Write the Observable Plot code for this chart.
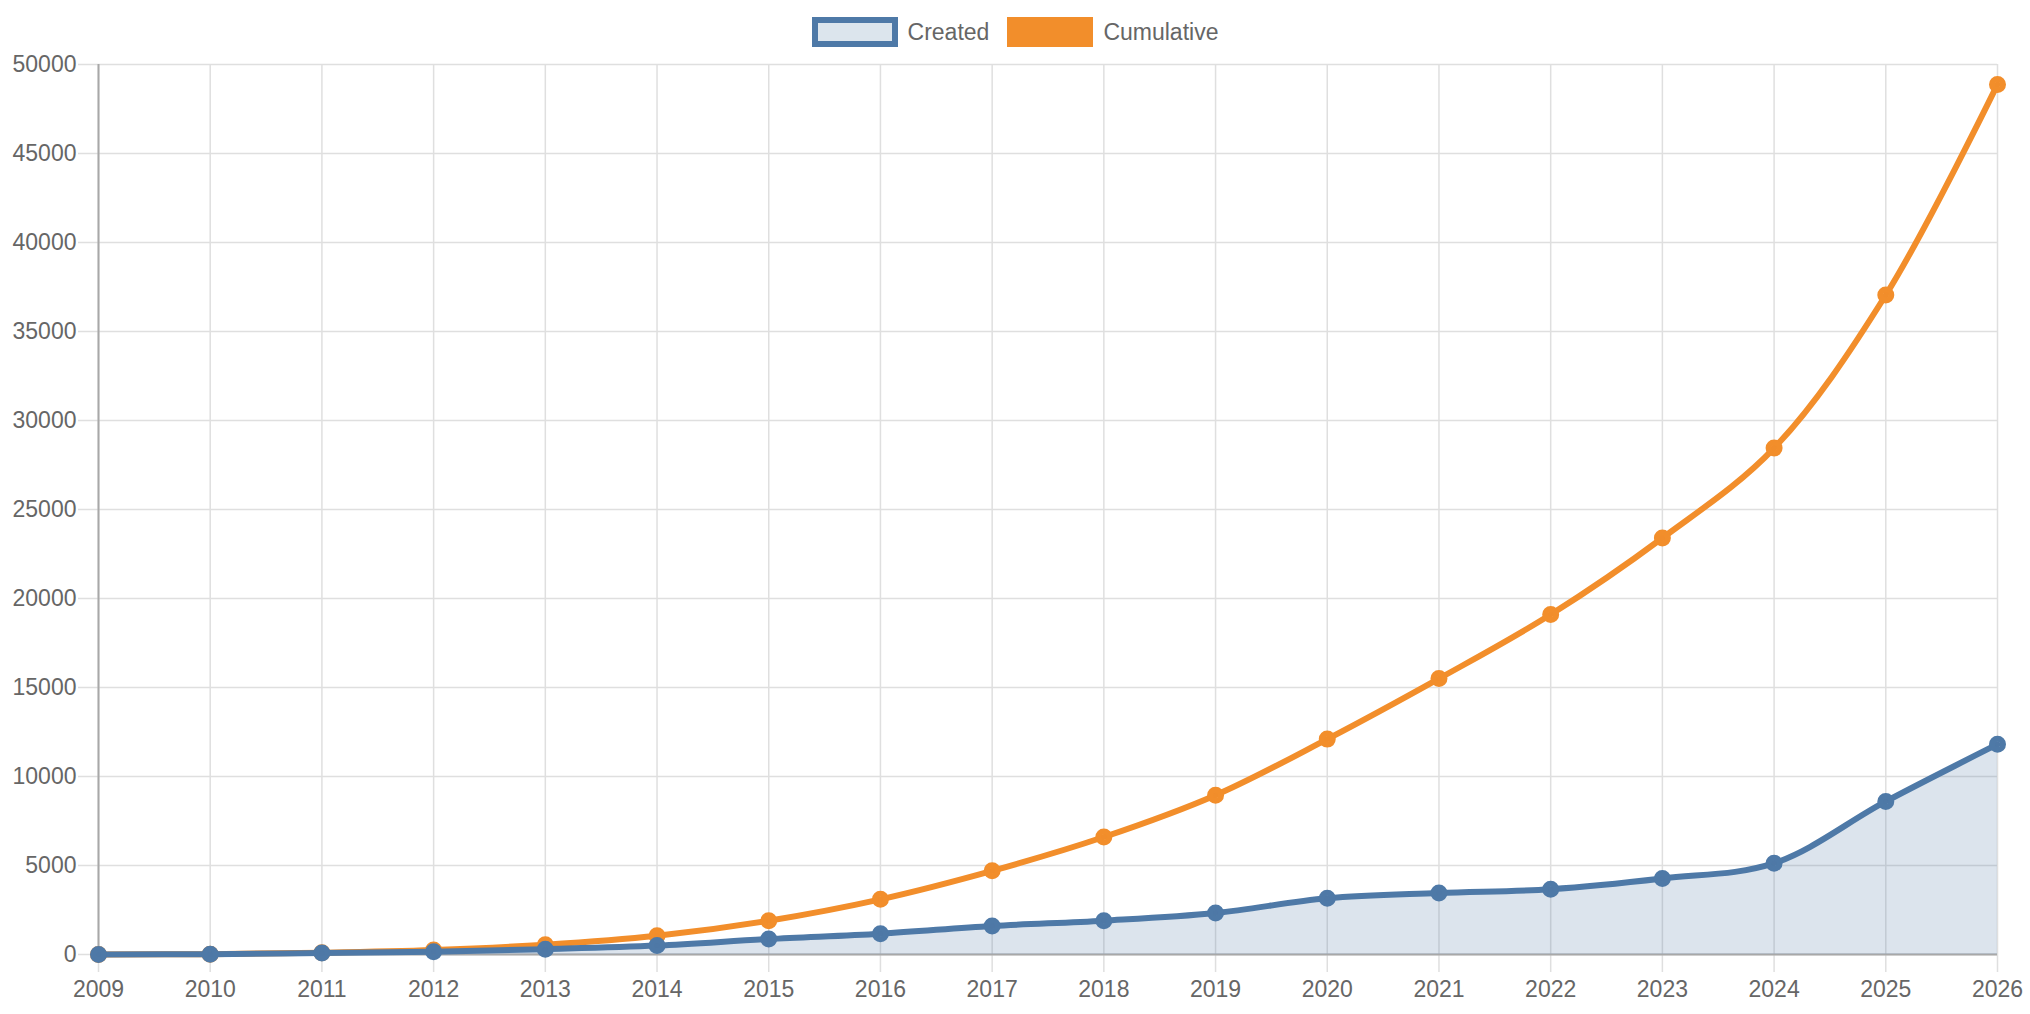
<!DOCTYPE html>
<html>
<head>
<meta charset="utf-8">
<script src="https://cdn.jsdelivr.net/npm/d3@7"></script>
<script src="https://cdn.jsdelivr.net/npm/@observablehq/plot@0.6"></script>
<style>
  html, body { margin: 0; padding: 0; background: #fff; }
  body { width: 2030px; height: 1014px; overflow: hidden; font-family: "Liberation Sans", Arial, Helvetica, sans-serif; }
  #legend { height: 52px; display: flex; justify-content: center; align-items: flex-start; padding-top: 17px; box-sizing: border-box; color: #666; font-size: 23px; }
  .item { display: flex; align-items: center; height: 30px; margin: 0 9px; }
  .swatch { width: 86px; height: 30px; box-sizing: border-box; margin-right: 10px; }
  #chart svg { display: block; }
</style>
</head>
<body>
<div id="legend"></div>
<div id="chart"></div>
<script>
// ---- data ----
const years = [2009, 2010, 2011, 2012, 2013, 2014, 2015, 2016, 2017, 2018, 2019, 2020, 2021, 2022, 2023, 2024, 2025, 2026];
const created = [0, 20, 80, 150, 300, 500, 870, 1170, 1600, 1900, 2330, 3160, 3460, 3670, 4270, 5130, 8600, 11810];
const cumulative = [0, 20, 100, 250, 550, 1050, 1900, 3100, 4700, 6600, 8950, 12100, 15500, 19100, 23400, 28450, 37050, 48880];
const yTicks = [0, 5000, 10000, 15000, 20000, 25000, 30000, 35000, 40000, 45000, 50000];
const seriesNames = ["Created", "Cumulative"];

const blue = "#4e79a7";
const orange = "#f28e2b";
const areaFill = "#dce5ed";
const gridColor = "#dfdfdf";
const axisColor = "#a8a8a8";
const textColor = "#666";

// ---- legend ----
const legend = document.getElementById("legend");
const swatchStyles = [
  `background:${areaFill};border:6px solid ${blue};`,
  `background:${orange};`
];
seriesNames.forEach((name, i) => {
  const it = document.createElement("div");
  it.className = "item";
  it.innerHTML = `<span class="swatch" style="${swatchStyles[i]}"></span><span>${name}</span>`;
  legend.appendChild(it);
});

// ---- table ----
const data = years.map((y, i) => ({year: y, created: created[i], cumulative: cumulative[i]}));
const curve = "catmull-rom";

const chart = Plot.plot({
  width: 2030,
  height: 962,
  marginLeft: 98,
  marginRight: 33,
  marginTop: 12,
  marginBottom: 60,
  style: {fontFamily: '"Liberation Sans", Arial, Helvetica, sans-serif', fontSize: "23px", color: textColor, background: "#fff", overflow: "visible"},
  x: {type: "linear", domain: [2009, 2026], label: null},
  y: {domain: [0, 50000], label: null},
  marks: [
    Plot.gridX(years, {stroke: gridColor, strokeOpacity: 1, strokeWidth: 1.5}),
    Plot.gridY(yTicks, {stroke: gridColor, strokeOpacity: 1, strokeWidth: 1.5}),
    Plot.axisX(years, {tickFormat: d => String(d), tickSize: 18, tickPadding: 8, stroke: gridColor, strokeWidth: 1.5, fill: textColor, label: null}),
    Plot.axisY(yTicks, {tickFormat: d => String(d), tickSize: 20, tickPadding: 2, stroke: gridColor, strokeWidth: 1.5, fill: textColor, label: null}),
    Plot.ruleX([2009], {stroke: axisColor, strokeWidth: 2}),
    Plot.ruleY([0], {stroke: axisColor, strokeWidth: 2}),
    Plot.line(data, {x: "year", y: "cumulative", stroke: orange, strokeWidth: 6, curve}),
    Plot.dot(data, {x: "year", y: "cumulative", r: 5.5, fill: orange, fillOpacity: 0.2, stroke: orange, strokeWidth: 6}),
    Plot.areaY(data, {x: "year", y: "created", fill: blue, fillOpacity: 0.2, curve}),
    Plot.line(data, {x: "year", y: "created", stroke: blue, strokeWidth: 6, curve}),
    Plot.dot(data, {x: "year", y: "created", r: 5.5, fill: blue, fillOpacity: 0.2, stroke: blue, strokeWidth: 6})
  ]
});
document.getElementById("chart").appendChild(chart);
</script>
</body>
</html>
